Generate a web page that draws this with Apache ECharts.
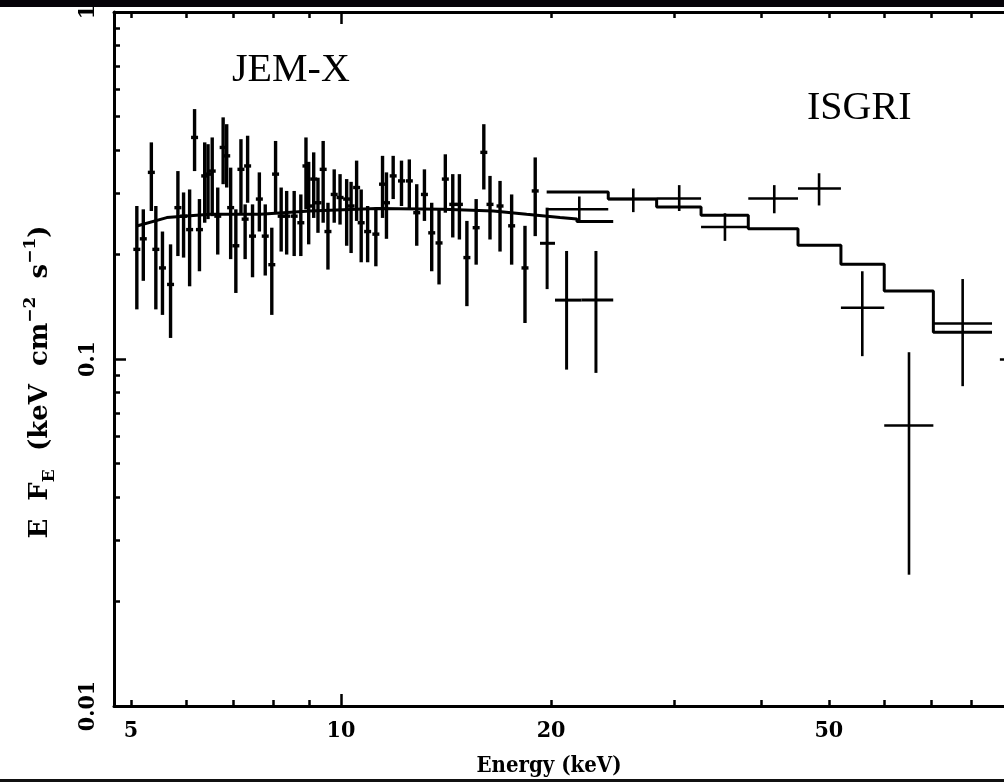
<!DOCTYPE html>
<html><head><meta charset="utf-8">
<script src="https://cdn.jsdelivr.net/npm/echarts@6/dist/echarts.min.js"></script>
<style>html,body{margin:0;padding:0;background:#fff}#c{width:1004px;height:782px}</style>
</head><body><div id="c"></div>
<script>
// ---- axis ticks / labels ----
const xMajorTicks = [10, 100];
const xMinorTicks = [5, 6, 7, 8, 9, 20, 30, 40, 50, 60, 70, 80, 90];
const xTickLabels = [5, 10, 20, 50];
const yMajorTicks = [0.01, 0.1, 1];
const yMinorTicks = [0.02, 0.03, 0.04, 0.05, 0.06, 0.07, 0.08, 0.09, 0.2, 0.3, 0.4, 0.5, 0.6, 0.7, 0.8, 0.9];
const yTickLabels = [0.01, 0.1, 1];

// ---- JEM-X data (keV, E F_E, low, high) ----
const jemxE  = [5.10,5.21,5.35,5.43,5.55,5.70,5.84,5.95,6.07,6.17,6.27,6.38,6.45,6.54,6.66,6.78,6.86,6.95,7.07,7.19,7.29,7.35,7.47,7.64,7.79,7.96,8.06,8.21,8.36,8.57,8.76,8.91,8.99,9.14,9.27,9.43,9.58,9.78,9.97,10.19,10.34,10.53,10.69,10.92,11.22,11.47,11.62,11.88,12.21,12.53,12.84,13.17,13.49,13.82,14.11,14.46,14.78,15.15,15.62,16.02,16.35,16.90,17.56,18.35,18.98];
const jemxV  = [0.207,0.222,0.345,0.207,0.183,0.164,0.273,0.258,0.236,0.435,0.236,0.337,0.341,0.348,0.258,0.407,0.385,0.273,0.212,0.352,0.253,0.360,0.226,0.289,0.226,0.187,0.341,0.258,0.258,0.258,0.247,0.360,0.276,0.330,0.282,0.352,0.233,0.298,0.292,0.289,0.276,0.312,0.247,0.233,0.229,0.319,0.282,0.337,0.326,0.326,0.264,0.298,0.231,0.216,0.330,0.279,0.279,0.196,0.239,0.394,0.279,0.276,0.242,0.183,0.305];
const jemxLo = [0.139,0.168,0.267,0.139,0.134,0.115,0.198,0.196,0.162,0.348,0.179,0.247,0.253,0.258,0.200,0.319,0.312,0.194,0.155,0.261,0.194,0.282,0.172,0.233,0.174,0.134,0.264,0.204,0.200,0.198,0.198,0.270,0.214,0.255,0.231,0.247,0.181,0.247,0.244,0.212,0.202,0.250,0.190,0.190,0.185,0.255,0.222,0.289,0.276,0.270,0.212,0.250,0.179,0.164,0.264,0.224,0.221,0.142,0.187,0.308,0.221,0.204,0.187,0.127,0.226];
const jemxHi = [0.276,0.270,0.421,0.276,0.233,0.214,0.348,0.302,0.308,0.525,0.289,0.421,0.416,0.435,0.312,0.497,0.475,0.356,0.270,0.430,0.279,0.440,0.279,0.345,0.279,0.239,0.425,0.312,0.305,0.305,0.298,0.435,0.370,0.394,0.333,0.425,0.282,0.352,0.341,0.330,0.324,0.373,0.308,0.276,0.273,0.385,0.345,0.385,0.373,0.376,0.319,0.352,0.282,0.270,0.389,0.341,0.341,0.250,0.289,0.475,0.337,0.326,0.298,0.242,0.381];

// JEM-X wide high-energy bins
const jemxWideE   = [19.74, 21.05, 23.19];
const jemxWideV   = [0.2155, 0.1478, 0.1478];
const jemxWideLo  = [0.159, 0.0932, 0.0912];
const jemxWideHi  = [0.273, 0.2048, 0.2048];
const jemxWideELo = [19.28, 20.26, 22.11];
const jemxWideEHi = [20.26, 22.11, 24.55];

// JEM-X model
const jemxModelE = [5.10, 5.63, 6.49, 7.66, 9.03, 11.25, 14.02, 16.53, 18.45, 20.60, 21.78, 21.78, 24.55];
const jemxModelV = [0.2416, 0.2556, 0.2612, 0.2612, 0.2671, 0.2714, 0.270, 0.2671, 0.2612, 0.2556, 0.253, 0.2489, 0.2489];

// ---- ISGRI data ----
const isgriE   = [21.95, 26.23, 30.52, 35.49, 41.76, 48.41, 55.83, 65.13, 77.74, 93.8];
const isgriV   = [0.270, 0.289, 0.290, 0.240, 0.290, 0.310, 0.1405, 0.0643, 0.1266, 0.0997];
const isgriLo  = [0.248, 0.265, 0.267, 0.219, 0.263, 0.277, 0.1019, 0.0239, 0.0835, 0.070];
const isgriHi  = [0.294, 0.310, 0.317, 0.263, 0.317, 0.343, 0.179, 0.1046, 0.170, 0.130];
const isgriELo = [19.71, 24.15, 28.33, 32.80, 38.33, 45.16, 52.03, 60.02, 70.58, 87.9];
const isgriEHi = [24.15, 28.33, 32.80, 38.33, 45.16, 52.03, 60.02, 70.58, 85.65, 100];

// ISGRI model (histogram)
const isgriModelEdges = [19.71, 24.15, 28.33, 32.80, 38.33, 45.16, 52.03, 60.02, 70.58, 85.65];
const isgriModelV     = [0.303, 0.289, 0.274, 0.2595, 0.2375, 0.2127, 0.1874, 0.157, 0.1195];

// ---- build ----
const jemxData = jemxE.map((e, i) => [e, jemxV[i], jemxLo[i], jemxHi[i]]);
const jemxWideData = jemxWideE.map((e, i) => [e, jemxWideV[i], jemxWideLo[i], jemxWideHi[i], jemxWideELo[i], jemxWideEHi[i]]);
const isgriData = isgriE.map((e, i) => [e, isgriV[i], isgriLo[i], isgriHi[i], isgriELo[i], isgriEHi[i]]);
const jemxModel = jemxModelE.map((e, i) => [e, jemxModelV[i]]);
const isgriModel = [];
isgriModelV.forEach((v, i) => { isgriModel.push([isgriModelEdges[i], v]); isgriModel.push([isgriModelEdges[i + 1], v]); });

function crossRenderer(capHalf, lw) {
  return function (params, api) {
    const E = api.value(0), v = api.value(1);
    const c = api.coord([E, v]);
    const t = api.coord([E, api.value(3)]);
    const b = api.coord([E, api.value(2)]);
    let xl = c[0] - capHalf, xr = c[0] + capHalf;
    if (capHalf === 0) { xl = api.coord([api.value(4), v])[0]; xr = api.coord([api.value(5), v])[0]; }
    const st = { stroke: '#000', lineWidth: lw };
    return { type: 'group', children: [
      { type: 'line', shape: { x1: c[0], y1: t[1], x2: c[0], y2: b[1] }, style: st },
      { type: 'line', shape: { x1: xl, y1: c[1], x2: xr, y2: c[1] }, style: st }
    ]};
  };
}

const FONT = '"DejaVu Serif Condensed", "DejaVu Serif", serif';
const FONT_W = '"DejaVu Serif", serif';
const xmin = 4.73, xmax = 89.1, ymin = 0.01, ymax = 1;
function xAx(pos, ticks, len, showLine, labels) {
  return {
    type: 'log', logBase: 10, min: xmin, max: xmax, position: pos,
    axisLine: { show: showLine, lineStyle: { color: '#000', width: 3 } },
    axisTick: { show: true, inside: true, length: len, customValues: ticks, lineStyle: { color: '#000', width: 2.5 } },
    axisLabel: labels ? { show: true, customValues: labels, margin: 14, color: '#000', fontFamily: FONT, fontWeight: 'bold', fontSize: 23 } : { show: false },
    splitLine: { show: false }, minorTick: { show: false }, minorSplitLine: { show: false }
  };
}
function yAx(ticks, len, showLine, labels) {
  return {
    type: 'log', logBase: 10, min: ymin, max: ymax, position: 'left',
    axisLine: { show: showLine, lineStyle: { color: '#000', width: 3 } },
    axisTick: { show: true, inside: true, length: len, customValues: ticks, lineStyle: { color: '#000', width: 2.5 } },
    axisLabel: labels ? { show: true, customValues: labels, rotate: 90, margin: 14, color: '#000', fontFamily: FONT, fontWeight: 'bold', fontSize: 23, formatter: v => String(v) } : { show: false },
    splitLine: { show: false }, minorTick: { show: false }, minorSplitLine: { show: false }
  };
}

const xa0 = xAx('bottom', xMajorTicks, 12, true, xTickLabels);
xa0.name = 'Energy (keV)';
xa0.nameLocation = 'middle';
xa0.nameGap = 49;
xa0.nameTextStyle = { color: '#000', fontFamily: FONT, fontWeight: 'bold', fontSize: 22, padding: [0, 20, 0, 0] };
const ya0 = yAx(yMajorTicks, 12, true, yTickLabels);
ya0.name = 'E  F{sub|E}  (keV  cm{sup|\u22122}  s{sup|\u22121})';
ya0.nameLocation = 'middle';
ya0.nameGap = 56;
ya0.nameTextStyle = {
  color: '#000', fontFamily: FONT_W, fontWeight: 'bold', fontSize: 26, lineHeight: 36, padding: [0, 46, 0, 0],
  rich: {
    sub: { fontFamily: FONT_W, fontWeight: 'bold', fontSize: 17, verticalAlign: 'bottom', lineHeight: 34, color: '#000' },
    sup: { fontFamily: FONT_W, fontWeight: 'bold', fontSize: 17, verticalAlign: 'top', lineHeight: 34, color: '#000' }
  }
};

const chart = echarts.init(document.getElementById('c'), null, { renderer: 'canvas' });
chart.setOption({
  animation: false,
  backgroundColor: '#fff',
  grid: { left: 114, top: 12, bottom: 76, right: 0, containLabel: false },
  xAxis: [
    xa0,
    xAx('bottom', xMinorTicks, 6, false, null),
    xAx('top', xMajorTicks, 12, true, null),
    xAx('top', xMinorTicks, 6, false, null)
  ],
  yAxis: [
    ya0,
    yAx(yMinorTicks, 6, false, null)
  ],
  series: [
    { type: 'line', data: jemxModel, showSymbol: false, lineStyle: { color: '#000', width: 3 }, xAxisIndex: 0, yAxisIndex: 0, z: 3 },
    { type: 'line', data: isgriModel, showSymbol: false, lineStyle: { color: '#000', width: 3 }, xAxisIndex: 0, yAxisIndex: 0, z: 3 },
    { type: 'custom', data: jemxData, renderItem: crossRenderer(3.5, 3.4), encode: { x: 0, y: 1 }, xAxisIndex: 0, yAxisIndex: 0, clip: true, z: 4 },
    { type: 'custom', data: jemxWideData, renderItem: crossRenderer(0, 3), encode: { x: 0, y: 1 }, xAxisIndex: 0, yAxisIndex: 0, clip: true, z: 4 },
    { type: 'custom', data: isgriData, renderItem: crossRenderer(0, 2.6), encode: { x: 0, y: 1 }, xAxisIndex: 0, yAxisIndex: 0, clip: true, z: 4 }
  ],
  graphic: [
    { type: 'rect', left: 0, top: 0, shape: { width: 1004, height: 7 }, style: { fill: '#050308' }, z: 100 },
    { type: 'rect', left: 0, top: 779, shape: { width: 1004, height: 3 }, style: { fill: '#111' }, z: 100 },
    { type: 'text', left: 232, top: 50, style: { text: 'JEM-X', font: '40px "Liberation Serif", serif', fill: '#000' }, z: 100 },
    { type: 'text', left: 807, top: 88, style: { text: 'ISGRI', font: '40px "Liberation Serif", serif', fill: '#000' }, z: 100 }
  ]
});
</script></body></html>
